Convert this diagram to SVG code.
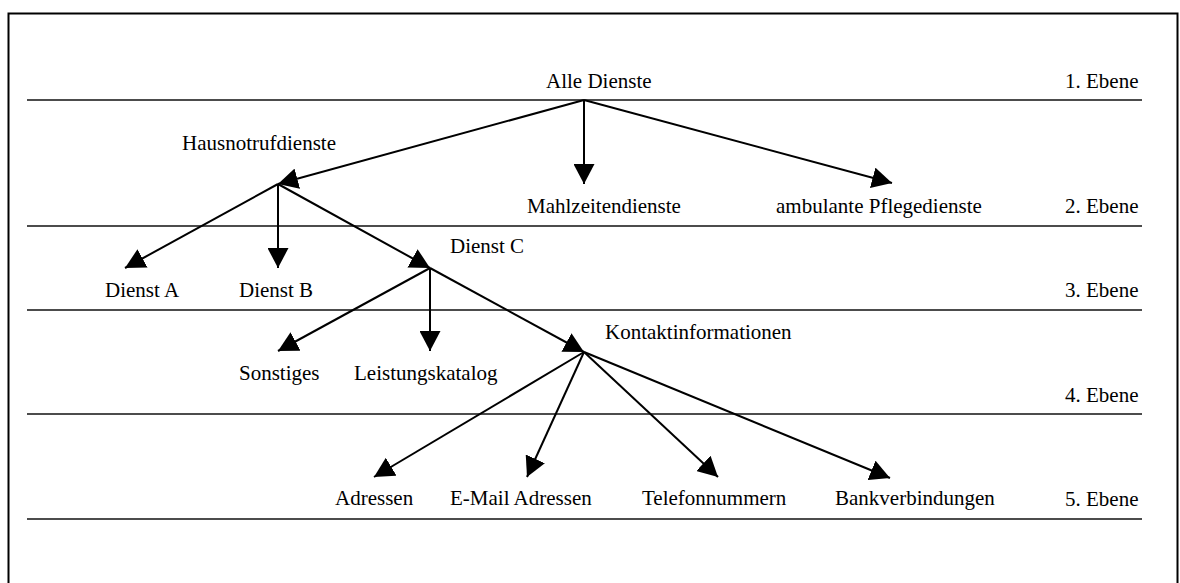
<svg xmlns="http://www.w3.org/2000/svg" width="1180" height="583" viewBox="0 0 1180 583">
<style>
text{font-family:"Liberation Serif","Times New Roman",serif;font-size:21px;fill:#000}
.lvl{stroke:#111;stroke-width:1.6;fill:none}
.edge{stroke:#000;stroke-width:2;fill:none;marker-end:url(#ah)}
</style>
<defs>
<marker id="ah" markerUnits="userSpaceOnUse" markerWidth="20" markerHeight="21" refX="20" refY="10.5" orient="auto" viewBox="0 0 20 21">
<path d="M0,0 L20,10.5 L0,21 z" fill="#000"/>
</marker>
</defs>
<rect x="0" y="0" width="1180" height="583" fill="#fff"/>
<rect x="8.5" y="13.5" width="1169" height="600" fill="none" stroke="#000" stroke-width="2"/>
<g id="levels">
<line class="lvl" x1="27" y1="100" x2="1142" y2="100"/>
<line class="lvl" x1="27" y1="226" x2="1142" y2="226"/>
<line class="lvl" x1="27" y1="310" x2="1142" y2="310"/>
<line class="lvl" x1="27" y1="414" x2="1142" y2="414"/>
<line class="lvl" x1="27" y1="519" x2="1142" y2="519"/>
<text x="1065" y="88">1. Ebene</text>
<text x="1065" y="213">2. Ebene</text>
<text x="1065" y="297">3. Ebene</text>
<text x="1065" y="402">4. Ebene</text>
<text x="1065" y="506">5. Ebene</text>
</g>
<g id="connectors">
<line class="edge" x1="584" y1="100" x2="278" y2="184"/>
<line class="edge" x1="584" y1="100" x2="584" y2="184"/>
<line class="edge" x1="584" y1="100" x2="892" y2="183"/>
<line class="edge" x1="278" y1="184" x2="125" y2="268"/>
<line class="edge" x1="278" y1="184" x2="278" y2="268"/>
<line class="edge" x1="278" y1="184" x2="430" y2="268"/>
<line class="edge" x1="430" y1="268" x2="278" y2="351"/>
<line class="edge" x1="430" y1="268" x2="430" y2="351"/>
<line class="edge" x1="430" y1="268" x2="584" y2="352"/>
<line class="edge" x1="584" y1="352" x2="374" y2="477"/>
<line class="edge" x1="584" y1="352" x2="527" y2="477"/>
<line class="edge" x1="584" y1="352" x2="718" y2="477"/>
<line class="edge" x1="584" y1="352" x2="890" y2="478"/>
</g>
<g id="alle"><text x="546" y="88">Alle Dienste</text></g>
<g id="hausnotruf"><text x="182" y="150">Hausnotrufdienste</text></g>
<g id="mahlzeiten"><text x="527" y="213">Mahlzeitendienste</text></g>
<g id="ambulante"><text x="776" y="213">ambulante Pflegedienste</text></g>
<g id="dienstC"><text x="450" y="253">Dienst C</text></g>
<g id="dienstA"><text x="105" y="297">Dienst A</text></g>
<g id="dienstB"><text x="239" y="297">Dienst B</text></g>
<g id="kontakt"><text x="605" y="339">Kontaktinformationen</text></g>
<g id="sonstiges"><text x="239" y="380">Sonstiges</text></g>
<g id="leistung"><text x="354" y="380">Leistungskatalog</text></g>
<g id="adressen"><text x="335" y="505">Adressen</text></g>
<g id="email"><text x="450" y="505">E-Mail Adressen</text></g>
<g id="telefon"><text x="642" y="505">Telefonnummern</text></g>
<g id="bank"><text x="835" y="505">Bankverbindungen</text></g>
</svg>
